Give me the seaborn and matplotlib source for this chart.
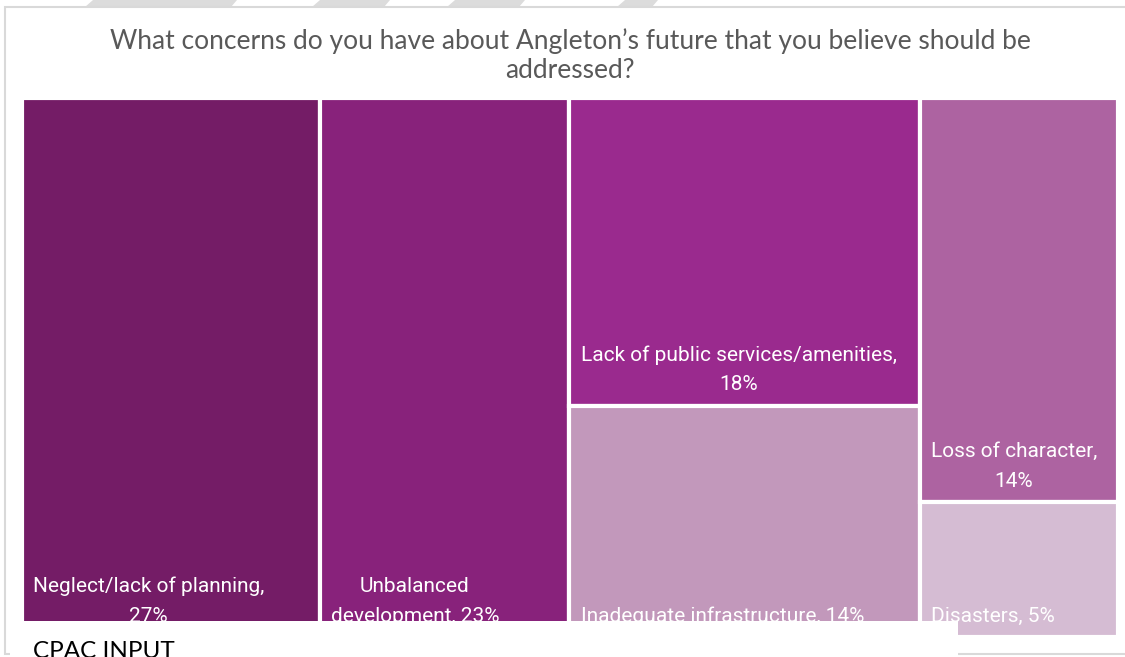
import matplotlib
matplotlib.use("Agg")
import matplotlib.pyplot as plt
from matplotlib.patches import Rectangle, Polygon
import seaborn as sns
from matplotlib import font_manager

# ---------------- data ----------------
categories = ["Neglect/lack of planning", "Unbalanced\ndevelopment",
              "Lack of public services/amenities", "Inadequate infrastructure",
              "Loss of character", "Disasters"]
values = [27.15, 22.8, 18.23, 13.72, 13.56, 4.54]          # percent (estimated)
label_sep = [",\n", ", ", ",\n", ", ", ",\n", ", "]
column_of = [0, 1, 2, 2, 3, 3]                              # treemap grouping
colors = ["#741C66", "#88227B", "#9A2A8E", "#C298BB", "#AD63A1", "#D5BCD3"]
title = ("What concerns do you have about Angleton\u2019s future that you believe should be\n"
         "addressed?")
footer = "CPAC INPUT"

# ---------------- style ----------------
sns.set_theme(style="white")
avail = {f.name for f in font_manager.fontManager.ttflist}
label_font = "Liberation Sans Narrow" if "Liberation Sans Narrow" in avail else "Roboto"
plt.rcParams["font.family"] = ["Lato", "DejaVu Sans"]

W, H = 1125, 657
fig = plt.figure(figsize=(W / 100, H / 100), dpi=100)
fig.patch.set_facecolor("white")

def fx(px):
    return px / W

def fy(py):
    return 1 - py / H

# decorative grey slants above the frame
for x0, x1 in [(85, 237), (312, 390), (447, 525), (617, 658)]:
    fig.patches.append(Polygon([(fx(x0), fy(7)), (fx(x0 + 8), fy(0)), (fx(x1), fy(0)), (fx(x1 - 6), fy(7))],
                               closed=True, transform=fig.transFigure, facecolor="#DCDCDC",
                               edgecolor="none", zorder=0))
# chart frame
fig.patches.append(Rectangle((fx(5), fy(654)), fx(1130) - fx(5), fy(7) - fy(654),
                             transform=fig.transFigure, facecolor="white",
                             edgecolor="#D9D9D9", linewidth=1.5, zorder=0.5))

# treemap axes
left_px, right_px, top_px, bot_px = 22, 1118, 98, 637
ax = fig.add_axes([fx(left_px), fy(bot_px), fx(right_px) - fx(left_px), fy(top_px) - fy(bot_px)])
ax.set_zorder(1)
ax.patch.set_alpha(0)
ax.set_xlim(0, 1)
ax.set_ylim(1, 0)
ax.axis("off")

total = sum(values)
ncols = max(column_of) + 1
col_sums = [sum(v for v, c in zip(values, column_of) if c == k) for k in range(ncols)]
col_left = [sum(col_sums[:k]) / total for k in range(ncols)]
col_top = [0.0] * ncols

for cat, v, sep, c, color in zip(categories, values, label_sep, column_of, colors):
    w = col_sums[c] / total
    h = v / col_sums[c]
    x0, y0 = col_left[c], col_top[c]
    col_top[c] += h
    ax.bar(x0, h, width=w, bottom=y0, align="edge", color=color,
           edgecolor="white", linewidth=3)
    ax.annotate(f"{cat}{sep}{round(v)}%", xy=(x0, y0 + h), xytext=(8, 8),
                textcoords="offset points", ha="left", va="bottom",
                multialignment="center", color="white", fontsize=15,
                family=[label_font, "DejaVu Sans"], linespacing=1.7)

# title
fig.text(fx(570), fy(56), title, ha="center", va="center", fontsize=19,
         color="#595959", linespacing=1.2)

# white overlay box at the bottom with footer text
fig.patches.append(Rectangle((fx(10), 0), fx(958) - fx(10), fy(621),
                             transform=fig.transFigure, facecolor="white",
                             edgecolor="none", zorder=5))
fig.text(fx(33), fy(641), footer, ha="left", va="top", fontsize=17.5,
         color="black", zorder=6)

fig.savefig("out.png", dpi=100, facecolor="white")
